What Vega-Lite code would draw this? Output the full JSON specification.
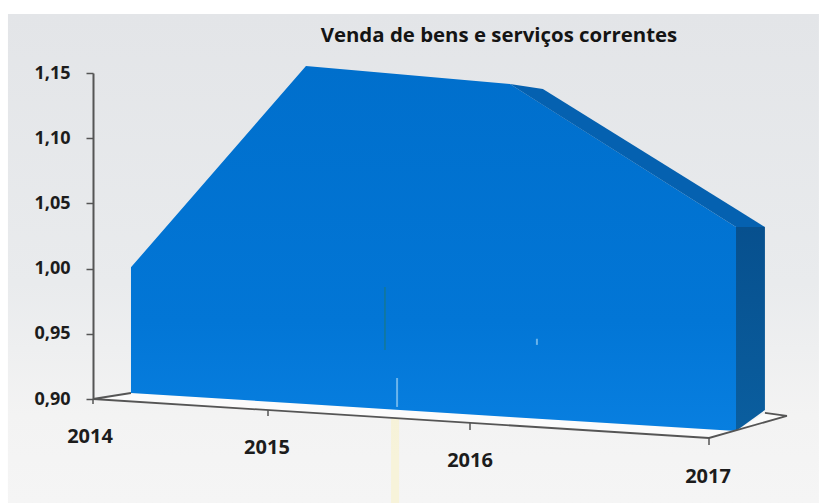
{"$schema":"https://vega.github.io/schema/vega-lite/v6.json","width":616,"height":326,"autosize":{"type":"none"},"padding":{"left":93,"top":73,"right":110,"bottom":104},"background":"#ffffff",
"datasets":{
"bg":[{"p":2013.514,"p2":2017.46,"v":1.1952,"v2":0.8202}],
"floor":[{"p":2014,"v":0.9,"b":0.9},{"p":2014.217,"v":0.9046,"b":0.8982},{"p":2017,"v":0.8767,"b":0.8701},{"p":2017.113,"v":0.8755,"b":0.8757},{"p":2017.234,"v":0.8893,"b":0.8824},{"p":2017.326,"v":0.887,"b":0.887}],
"front":[{"year":2014,"p":2014.217,"v":1.001,"b":0.9046},{"year":2015,"p":2015.188,"v":1.1554,"b":0.8962},{"year":2016,"p":2016.167,"v":1.1416,"b":0.8862},{"year":2017,"p":2017.113,"v":1.0319,"b":0.8755}],
"band":[{"p":2016.167,"v":1.1416,"b":1.1416},{"p":2016.305,"v":1.1377,"b":1.1255},{"p":2017.113,"v":1.0457,"b":1.0319},{"p":2017.234,"v":1.0319,"b":1.0319}],
"side":[{"p":2017.113,"v":1.0319,"b":0.8755},{"p":2017.234,"v":1.0319,"b":0.8916}],
"axisline":[{"i":0,"p":2014.217,"v":0.9046},{"i":1,"p":2014,"v":0.9},{"i":2,"p":2017,"v":0.8701},{"i":3,"p":2017.326,"v":0.887},{"i":4,"p":2017.234,"v":0.8893}],
"ticks":[{"p":2014,"v":0.9,"v2":0.8962},{"p":2015,"v":0.8916,"v2":0.887},{"p":2016,"v":0.8816,"v2":0.8762},{"p":2017,"v":0.8701,"v2":0.8647}],
"labels":[{"t":"2014","p":2013.983,"v":0.8709},{"t":"2015","p":2014.994,"v":0.8624},{"t":"2016","p":2016,"v":0.8525},{"t":"2017","p":2016.996,"v":0.8402}],
"title":[{"t":"Venda de bens e serviços correntes","p":2016.121,"v":1.1784}],
"yellow":[{"p":2015.609,"p2":2015.649,"v":0.89,"v2":0.8202}],
"green":[{"p":2015.579,"v":0.9859,"v2":0.9376}],
"speck":[{"p":2015.639,"v":0.9161,"v2":0.8939},{"p":2016.28,"v":0.9462,"v2":0.9415}]
},
"config":{"view":{"stroke":null}},
"encoding":{
"x":{"field":"p","type":"quantitative","axis":null,"scale":{"domain":[2014,2015,2016,2017],"range":[0,175,377,616],"nice":false,"zero":false}},
"y":{"field":"v","type":"quantitative","scale":{"domain":[0.9,1.15],"nice":false,"zero":false},"axis":{"title":null,"values":[0.9,0.95,1.0,1.05,1.1,1.15],"labelExpr":"replace(format(datum.value,'.2f'),'.',',')","labelFont":"Open Sans","labelFontSize":18,"labelFontWeight":"bold","labelColor":"#1c1c1c","tickSize":7,"tickColor":"#555555","tickWidth":1.5,"domainColor":"#555555","domainWidth":2,"labelPadding":16,"grid":false,"zindex":1}}
},
"layer":[
{"data":{"name":"bg"},"mark":{"type":"rect","clip":false,"fill":{"gradient":"linear","x1":0,"y1":0,"x2":0,"y2":1,"stops":[{"offset":0,"color":"#e3e5e8"},{"offset":0.55,"color":"#e9ebed"},{"offset":0.82,"color":"#f3f3f3"},{"offset":1,"color":"#f5f5f5"}]}},"encoding":{"x2":{"field":"p2"},"y2":{"field":"v2"}}},
{"data":{"name":"yellow"},"mark":{"type":"rect","fill":"#f9f2c8","opacity":0.6},"encoding":{"x2":{"field":"p2"},"y2":{"field":"v2"}}},
{"data":{"name":"floor"},"mark":{"type":"area","fill":"#fbfbfb"},"encoding":{"y2":{"field":"b"}}},
{"data":{"name":"front"},"mark":{"type":"area","fill":{"gradient":"linear","x1":0,"y1":0,"x2":0,"y2":1,"stops":[{"offset":0,"color":"#006fcc"},{"offset":0.7,"color":"#0276d6"},{"offset":1,"color":"#087fe0"}]}},"encoding":{"y2":{"field":"b"}}},
{"data":{"name":"band"},"mark":{"type":"area","fill":"#0561b0"},"encoding":{"y2":{"field":"b"}}},
{"data":{"name":"side"},"mark":{"type":"area","fill":{"gradient":"linear","x1":0,"y1":0,"x2":0,"y2":1,"stops":[{"offset":0,"color":"#07508e"},{"offset":1,"color":"#0a5e9f"}]}},"encoding":{"y2":{"field":"b"}}},
{"data":{"name":"green"},"mark":{"type":"rule","color":"#1f7a6a","strokeWidth":1.5,"opacity":0.6},"encoding":{"y2":{"field":"v2"}}},
{"data":{"name":"speck"},"mark":{"type":"rule","color":"#bfe4fa","strokeWidth":2,"opacity":0.55},"encoding":{"y2":{"field":"v2"}}},
{"data":{"name":"axisline"},"mark":{"type":"line","color":"#555555","strokeWidth":1.8},"encoding":{"order":{"field":"i"}}},
{"data":{"name":"ticks"},"mark":{"type":"rule","color":"#555555","strokeWidth":1.5},"encoding":{"y2":{"field":"v2"}}},
{"data":{"name":"labels"},"mark":{"type":"text","font":"Open Sans","fontSize":20,"fontWeight":"bold","color":"#1c1c1c"},"encoding":{"text":{"field":"t"}}},
{"data":{"name":"title"},"mark":{"type":"text","font":"Open Sans","fontSize":20.4,"fontWeight":"bold","color":"#141414"},"encoding":{"text":{"field":"t"}}}
]}
